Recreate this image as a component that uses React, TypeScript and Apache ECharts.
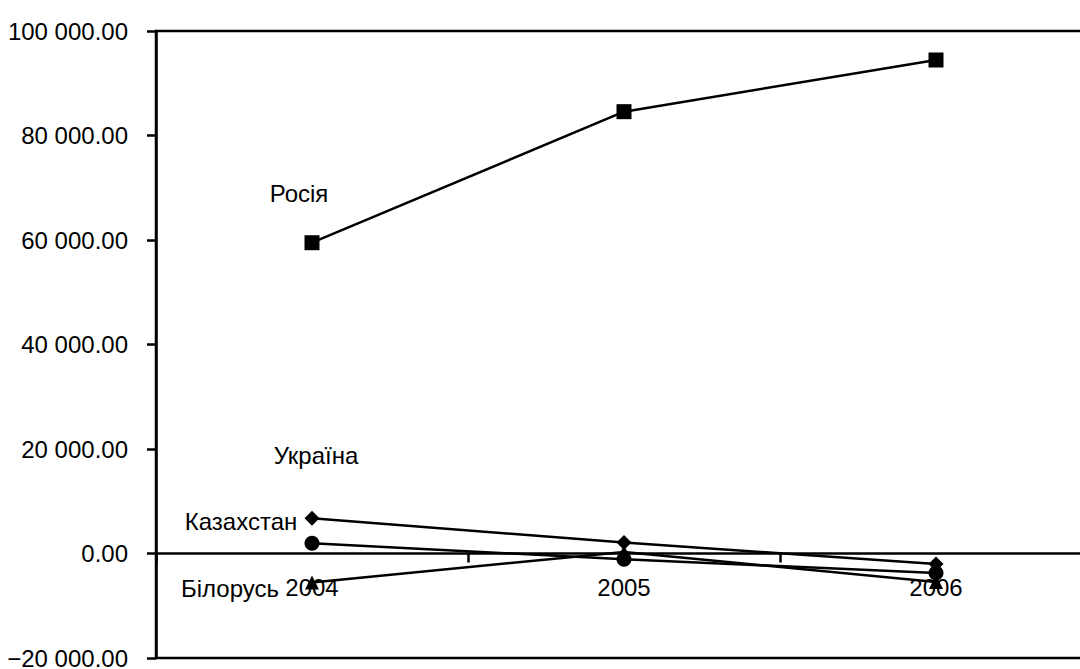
import React, { useEffect, useRef } from "react";
import * as echarts from "echarts";

const years = ["2004", "2005", "2006"];
const russia = [59480, 84560, 94450];
const ukraine = [6740, 2100, -2010];
const kazakhstan = [1950, -1110, -3730];
const belarus = [-5550, 300, -5450];

const yMin = -20000;
const yMax = 100000;
const yStep = 20000;

const seriesLabels = [
  { text: "Росія", x: 299, y: 193 },
  { text: "Україна", x: 316, y: 455 },
  { text: "Казахстан", x: 241, y: 521 },
  { text: "Білорусь", x: 230, y: 588 },
];

const FONT = "'Liberation Sans', Arial, sans-serif";
const FS = 24;

function fmt(v: number): string {
  const abs = Math.abs(v).toFixed(2);
  const [i, d] = abs.split(".");
  const grouped = i.replace(/\B(?=(\d{3})+(?!\d))/g, " ");
  return (v < 0 ? "\u2212" : "") + grouped + "." + d;
}

const GRID_TOP = 31;
const GRID_BOTTOM = 11;
const H = 669;

export default function App() {
  const ref = useRef<HTMLDivElement>(null);
  useEffect(() => {
    if (!ref.current) return;
    const chart = echarts.init(ref.current, undefined, { renderer: "svg" });
    const lineStyle = { color: "#000", width: 2.5 };
    const mk = (name: string, data: number[], symbol: string, size: number) => ({
      name,
      type: "line",
      data,
      symbol,
      symbolSize: size,
      showAllSymbol: true,
      lineStyle,
      itemStyle: { color: "#000" },
      emphasis: { disabled: true },
    });
    chart.setOption({
      animation: false,
      backgroundColor: "#fff",
      grid: {
        left: 156,
        top: GRID_TOP,
        right: -12,
        bottom: GRID_BOTTOM,
        outerBoundsMode: "none",
        containLabel: false,
        show: true,
        borderColor: "#000",
        borderWidth: 2.5,
        backgroundColor: "transparent",
      },
      xAxis: {
        type: "category",
        data: years,
        boundaryGap: true,
        position: "bottom",
        offset: 0,
        axisLine: { onZero: false, lineStyle: { color: "#000", width: 2.5 } },
        axisTick: { show: true, length: 9, lineStyle: { color: "#000", width: 2.5 } },
        axisLabel: { color: "#000", fontFamily: FONT, fontSize: FS, margin: 22 },
        splitLine: { show: false },
      },
      yAxis: {
        type: "value",
        min: yMin,
        max: yMax,
        interval: yStep,
        axisLine: { show: true, lineStyle: { color: "#000", width: 2.5 } },
        axisTick: { show: true, length: 9, lineStyle: { color: "#000", width: 2.5 } },
        axisLabel: {
          color: "#000",
          fontFamily: FONT,
          fontSize: FS,
          margin: 28,
          formatter: (v: number) => fmt(v),
        },
        splitLine: { show: false },
      },
      series: [
        mk("Росія", russia, "rect", 15),
        mk("Білорусь", belarus, "triangle", 14),
        mk("Казахстан", kazakhstan, "circle", 15),
        mk("Україна", ukraine, "diamond", 15),
      ],
      graphic: seriesLabels.map((l) => ({
        type: "text",
        x: l.x,
        y: l.y,
        z: 100,
        style: {
          text: l.text,
          fill: "#000",
          font: `${FS}px ${FONT}`,
          textAlign: "center",
          textVerticalAlign: "middle",
        },
      })),
    });
    // move the category axis onto the zero line of the value axis
    const zeroY = chart.convertToPixel({ yAxisIndex: 0 }, 0) as number;
    const gridBottomY = H - GRID_BOTTOM;
    chart.setOption({ xAxis: { offset: -(gridBottomY - zeroY) } });
    return () => chart.dispose();
  }, []);
  return (
    <div
      ref={ref}
      style={{ position: "fixed", left: 0, top: 0, width: 1080, height: H, background: "#fff" }}
    />
  );
}
